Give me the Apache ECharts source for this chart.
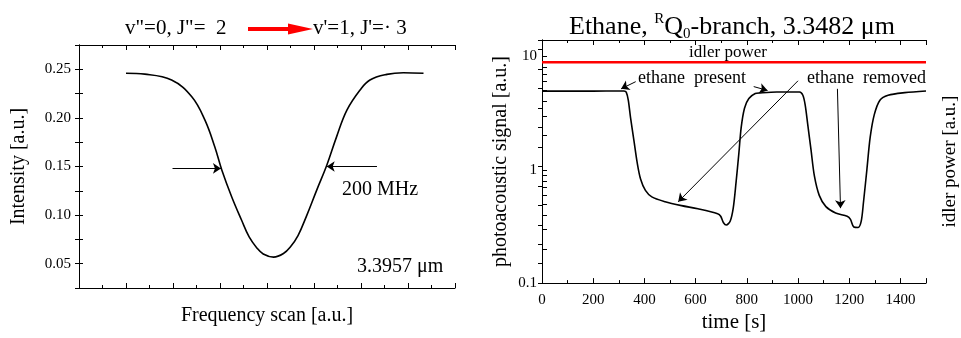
<!DOCTYPE html>
<html>
<head>
<meta charset="utf-8">
<script src="https://cdn.jsdelivr.net/npm/echarts@6/dist/echarts.min.js"></script>
<style>
html,body{margin:0;padding:0;background:#fff;}
#chart{width:961px;height:338px;}
</style>
</head>
<body>
<div id="chart"></div>
<script>
// ---- Left panel: absorption line scan ----
var scanX = [1.0, 1.4, 1.97, 2.4, 2.68, 2.89, 3.04, 3.25, 3.46, 3.62, 3.78, 3.92, 4.14, 4.35, 4.50, 4.66, 4.84, 5.06, 5.27, 5.48, 5.70, 5.98, 6.19, 6.55, 6.90, 7.33];
var scanY = [0.2459, 0.245, 0.239, 0.2218, 0.1977, 0.170, 0.1462, 0.1187, 0.0947, 0.0775, 0.0665, 0.060, 0.0568, 0.0605, 0.0675, 0.079, 0.099, 0.126, 0.151, 0.1805, 0.208, 0.2287, 0.239, 0.2448, 0.2465, 0.2459];
var intensityTicks = [0.05, 0.10, 0.15, 0.20, 0.25];

// ---- Right panel: photoacoustic signal vs time ----
var timeS = [0, 100, 200, 300, 320, 329, 337, 346, 359, 372, 385, 404, 429, 481, 545, 609, 686, 698, 709, 720, 735, 747, 758, 769, 778, 791, 808, 833, 852, 917, 1006, 1019, 1028, 1038, 1051, 1064, 1083, 1109, 1147, 1192, 1205, 1218, 1235, 1247, 1256, 1269, 1282, 1298, 1320, 1352, 1417, 1500];
var paSignal = [4.95, 4.95, 4.95, 4.97, 4.97, 4.86, 4.12, 2.87, 1.82, 1.15, 0.83, 0.658, 0.577, 0.523, 0.483, 0.453, 0.41, 0.389, 0.341, 0.326, 0.352, 0.459, 0.774, 1.40, 2.36, 3.50, 4.26, 4.71, 4.77, 4.86, 4.86, 4.55, 3.74, 2.52, 1.49, 0.883, 0.595, 0.473, 0.416, 0.389, 0.365, 0.313, 0.31, 0.352, 0.523, 1.0, 1.94, 3.07, 4.12, 4.55, 4.80, 4.97];
var idlerT = [0, 1500];
var idlerPower = [8.9, 8.9];
var timeTicks = [0, 200, 400, 600, 800, 1000, 1200, 1400];
var signalTicks = [0.1, 1, 10];
var signalMinorTicks = [0.1,0.2,0.3,0.4,0.5,0.6,0.7,0.8,0.9,1,2,3,4,5,6,7,8,9,10];

var FF = '"Liberation Serif","Times New Roman",serif';
function pairs(xs, ys){ return xs.map(function(x,i){return [x, ys[i]];}); }

var axLine = {show:true, lineStyle:{color:'#000', width:1}};
function mirrorX(grid, min, max, interval, minorSplit){
  return {type:'value', gridIndex:grid, position:'top', min:min, max:max, interval:interval,
    axisLine:axLine, axisLabel:{show:false}, splitLine:{show:false},
    axisTick:{show:true, inside:true, length:5, lineStyle:{color:'#000'}},
    minorTick:{show:!!minorSplit, splitNumber:minorSplit||5, length:3, lineStyle:{color:'#000'}}};
}
var arrowLine = {silent:true, symbol:['none','arrow'], symbolSize:8, label:{show:false},
  itemStyle:{color:'#000'}, lineStyle:{color:'#000', width:1, type:'solid'}, emphasis:{disabled:true}};

var chart = echarts.init(document.getElementById('chart'), null, {renderer:'canvas'});
var option = {
  animation:false,
  backgroundColor:'#fff',
  title:[{
    text:'Ethane, {sup|R}Q{sub|0}-branch, 3.3482 μm',
    left:569, top:12, padding:0,
    textStyle:{fontFamily:FF, fontSize:26, fontWeight:'normal', color:'#000', lineHeight:30,
      rich:{
        sup:{fontFamily:FF, fontSize:15, color:'#000', verticalAlign:'top', lineHeight:16},
        sub:{fontFamily:FF, fontSize:15, color:'#000', verticalAlign:'bottom', lineHeight:16}
      }}
  }],
  grid:[
    {left:79, top:45, width:376, height:243},
    {left:542, top:40, width:390, height:251}
  ],
  xAxis:[
    {type:'value', gridIndex:0, min:0, max:8, interval:1,
      name:'Frequency scan [a.u.]', nameLocation:'middle', nameGap:18,
      nameTextStyle:{fontFamily:FF, fontSize:20, color:'#000'},
      axisLine:axLine, axisLabel:{show:false}, splitLine:{show:false},
      axisTick:{show:true, inside:true, length:5, lineStyle:{color:'#000'}},
      minorTick:{show:true, splitNumber:2, length:3, lineStyle:{color:'#000'}}},
    mirrorX(0, 0, 8, 1, 2),
    {type:'value', gridIndex:1, min:0, max:1500, interval:200,
      name:'time [s]', nameLocation:'middle', nameGap:25,
      nameTextStyle:{fontFamily:FF, fontSize:21, color:'#000'},
      axisLine:axLine, splitLine:{show:false},
      axisLabel:{fontFamily:FF, fontSize:15, color:'#000', margin:9, showMaxLabel:false,
        formatter:function(v){ return timeTicks.indexOf(v) >= 0 ? String(v) : ''; }},
      axisTick:{show:true, inside:true, length:5, lineStyle:{color:'#000'}},
      minorTick:{show:true, splitNumber:2, length:3, lineStyle:{color:'#000'}}},
    mirrorX(1, 0, 1500, 200, 2)
  ],
  yAxis:[
    {type:'value', gridIndex:0, position:'left', min:0.025, max:0.275, interval:0.025,
      name:'Intensity [a.u.]', nameLocation:'middle', nameGap:50,
      nameTextStyle:{fontFamily:FF, fontSize:20, color:'#000'},
      axisLine:axLine, splitLine:{show:false},
      axisLabel:{fontFamily:FF, fontSize:15, color:'#000', margin:8,
        formatter:function(v){
          return intensityTicks.some(function(t){return Math.abs(t-v)<1e-9;}) ? v.toFixed(2) : '';
        }},
      axisTick:{show:true, inside:true, length:4, lineStyle:{color:'#000'}}},
    {type:'value', gridIndex:0, position:'right', min:0.025, max:0.275, interval:0.025,
      axisLine:axLine, axisLabel:{show:false}, splitLine:{show:false},
      axisTick:{show:true, inside:true, length:4, lineStyle:{color:'#000'}}},
    {type:'log', gridIndex:1, position:'left', logBase:10, min:0.1, max:14, interval:1,
      name:'photoacoustic signal [a.u.]', nameLocation:'middle', nameGap:31,
      nameTextStyle:{fontFamily:FF, fontSize:20, color:'#000'},
      axisLine:axLine, splitLine:{show:false}, minorTick:{show:false},
      axisLabel:{fontFamily:FF, fontSize:15, color:'#000', margin:5,
        customValues:signalTicks,
        formatter:function(v){ return v < 1 ? v.toFixed(1) : String(Math.round(v)); }},
      axisTick:{show:true, inside:true, length:5, customValues:signalMinorTicks, lineStyle:{color:'#000'}}},
    {type:'value', gridIndex:1, position:'right', min:0, max:12.5, interval:1,
      name:'idler power [a.u.]', nameLocation:'middle', nameGap:15,
      nameTextStyle:{fontFamily:FF, fontSize:19, color:'#000'},
      axisLine:axLine, axisLabel:{show:false}, splitLine:{show:false},
      axisTick:{show:true, inside:true, length:4, lineStyle:{color:'#000'}}}
  ],
  series:[
    {type:'line', xAxisIndex:0, yAxisIndex:0, data:pairs(scanX, scanY), smooth:0.4,
      showSymbol:false, symbol:'none', lineStyle:{color:'#000', width:1.6}, silent:true,
      markLine:Object.assign({}, arrowLine, {
        data:[
          [{coord:[1.99,0.148]},{coord:[3.02,0.148]}],
          [{coord:[6.34,0.150]},{coord:[5.27,0.150]}]
        ]})},
    {type:'line', xAxisIndex:2, yAxisIndex:2, data:pairs(idlerT, idlerPower),
      showSymbol:false, symbol:'none', lineStyle:{color:'#ff0000', width:2.5}, silent:true},
    {type:'line', xAxisIndex:2, yAxisIndex:2, data:pairs(timeS, paSignal), smooth:0.3,
      showSymbol:false, symbol:'none', lineStyle:{color:'#000', width:1.6}, silent:true,
      markLine:Object.assign({}, arrowLine, {
        data:[
          [{coord:[366,6.0]},{coord:[309,5.19]}],
          [{coord:[827,5.43]},{coord:[881,5.02]}],
          [{coord:[1000,6.11]},{coord:[532,0.522]}],
          [{coord:[1154,5.19]},{coord:[1166,0.459]}]
        ]})}
  ],
  graphic:[
    {type:'text', x:125, y:28, style:{text:'v"=0, J"=  2', fill:'#000', font:'21px '+FF, textAlign:'left', textVerticalAlign:'middle'}},
    {type:'line', shape:{x1:248, y1:29, x2:292, y2:29}, style:{stroke:'#ff0000', lineWidth:4}},
    {type:'polygon', shape:{points:[[288,23.5],[313,29],[288,34.5]]}, style:{fill:'#ff0000'}},
    {type:'text', x:313, y:28, style:{text:"v'=1, J'=· 3", fill:'#000', font:'21px '+FF, textAlign:'left', textVerticalAlign:'middle'}},
    {type:'text', x:342, y:190, style:{text:'200 MHz', fill:'#000', font:'20px '+FF, textAlign:'left', textVerticalAlign:'middle'}},
    {type:'text', x:357, y:267, style:{text:'3.3957 μm', fill:'#000', font:'20px '+FF, textAlign:'left', textVerticalAlign:'middle'}},
    {type:'text', x:728, y:53, style:{text:'idler power', fill:'#000', font:'17px '+FF, textAlign:'center', textVerticalAlign:'middle'}},
    {type:'text', x:638, y:78, style:{text:'ethane  present', fill:'#000', font:'18px '+FF, textAlign:'left', textVerticalAlign:'middle'}},
    {type:'text', x:807, y:78, style:{text:'ethane  removed', fill:'#000', font:'18px '+FF, textAlign:'left', textVerticalAlign:'middle'}}
  ]
};
chart.setOption(option);
</script>
</body>
</html>
